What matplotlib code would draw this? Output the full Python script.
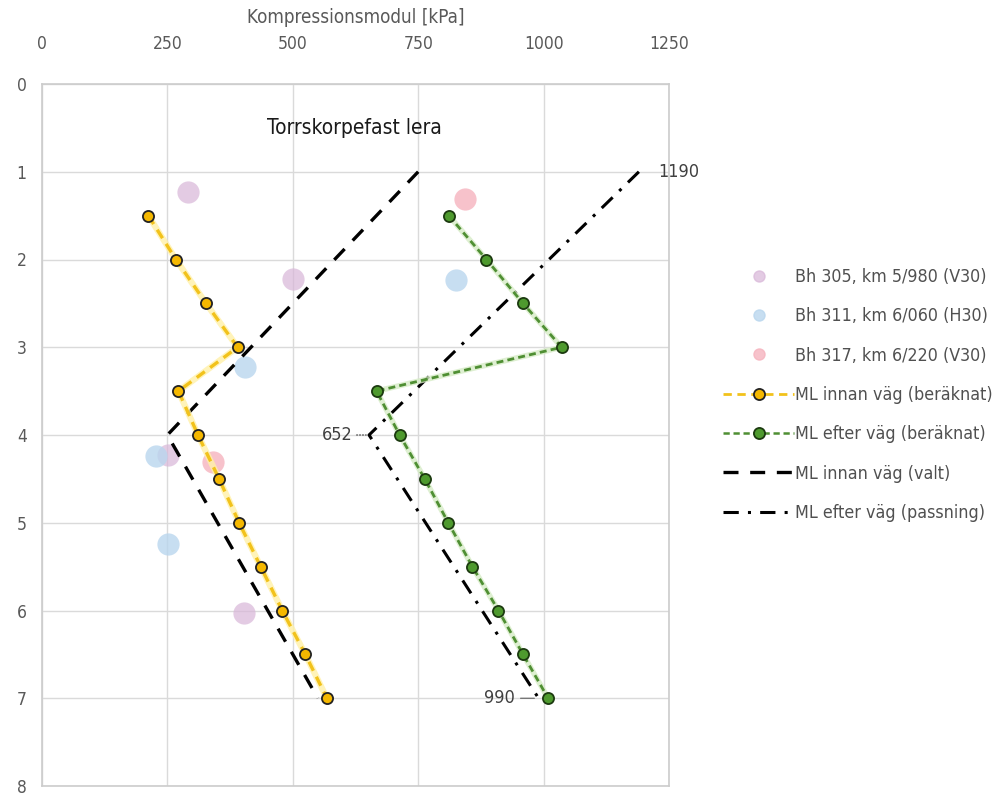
import matplotlib
matplotlib.use("Agg")
import matplotlib.pyplot as plt
from matplotlib.lines import Line2D

# depth [m] and compression modulus [kPa]
depth_calc = [1.5, 2.0, 2.5, 3.0, 3.5, 4.0, 4.5, 5.0, 5.5, 6.0, 6.5, 7.0]
ml_before_calc = [212, 267, 327, 390, 272, 311, 353, 393, 436, 479, 525, 568]
ml_after_calc = [811, 886, 959, 1036, 667, 713, 763, 810, 858, 910, 959, 1009]

depth_chosen = [1, 4, 7]
ml_before_chosen = [750, 250, 550]
ml_after_fit = [1190, 652, 990]

bh305_ml = [291, 500, 252, 403]
bh305_depth = [1.23, 2.22, 4.23, 6.03]
bh311_ml = [826, 404, 228, 252]
bh311_depth = [2.23, 3.22, 4.24, 5.24]
bh317_ml = [843, 341]
bh317_depth = [1.31, 4.31]

bh_labels = ["Bh 305, km 5/980 (V30)", "Bh 311, km 6/060 (H30)", "Bh 317, km 6/220 (V30)"]
line_labels = ["ML innan väg (beräknat)", "ML efter väg (beräknat)",
               "ML innan väg (valt)", "ML efter väg (passning)"]

plt.rcParams['font.family'] = ['DejaVu Sans']
plt.rcParams['font.stretch'] = 'condensed'

fig = plt.figure(figsize=(9.99, 7.94), dpi=100)
ax = fig.add_axes([42/999, 1 - 786/794, (669 - 42)/999, (786 - 84)/794])

c305, c311, c317 = '#d8b6d8', '#b9d6ee', '#f6b3be'
ax.plot(bh305_ml, bh305_depth, 'o', ms=16, color=c305, alpha=0.7, mec='none', zorder=2)
ax.plot(bh311_ml, bh311_depth, 'o', ms=16, color=c311, alpha=0.8, mec='none', zorder=2)
ax.plot(bh317_ml, bh317_depth, 'o', ms=16, color=c317, alpha=0.8, mec='none', zorder=2)

# chosen / fitted lines
ax.plot(ml_before_chosen, depth_chosen, color='black', lw=2.4,
        dashes=(4.5, 3.5), zorder=3)
ax.plot(ml_after_fit, depth_chosen, color='black', lw=2.2,
        dashes=(5, 3, 1, 3), zorder=3)

# calculated series with a pale halo under the dashes
ax.plot(ml_before_calc, depth_calc, color='#fff1a8', lw=4.5, alpha=0.8, zorder=4)
ax.plot(ml_before_calc, depth_calc, color='#f2c21b', lw=2.4, dashes=(3, 2),
        marker='o', ms=8, mfc='#f5b800', mec='#222222', mew=1.3, zorder=5)
ax.plot(ml_after_calc, depth_calc, color='#d6ecc6', lw=4.0, alpha=0.8, zorder=4)
ax.plot(ml_after_calc, depth_calc, color='#4f8f33', lw=2.0, dashes=(2.5, 1.5),
        marker='o', ms=8, mfc='#4e9a2e', mec='#1c3a10', mew=1.3, zorder=5)

# value labels on the fitted line
lab_kw = dict(fontsize=13, color='#404040', va='center')
ax.annotate(str(ml_after_fit[0]), xy=(ml_after_fit[0], depth_chosen[0]),
            xytext=(14, 0), textcoords='offset points', ha='left', **lab_kw)
ax.annotate(str(ml_after_fit[1]), xy=(ml_after_fit[1], depth_chosen[1]),
            xytext=(-12, 0), textcoords='offset points', ha='right',
            arrowprops=dict(arrowstyle='-', color='#404040', lw=0.8, ls=':',
                            shrinkA=1, shrinkB=2), **lab_kw)
ax.annotate(str(ml_after_fit[2]), xy=(ml_after_fit[2], depth_chosen[2]),
            xytext=(-17, 0), textcoords='offset points', ha='right',
            arrowprops=dict(arrowstyle='-', color='#606060', lw=0.8,
                            shrinkA=2, shrinkB=3), **lab_kw)

ax.text(448, 0.5, "Torrskorpefast lera", ha='left', va='center',
        fontsize=15, color='#1a1a1a')

ax.set_xlim(0, 1250)
ax.set_ylim(8, 0)
ax.set_xticks(range(0, 1251, 250))
ax.set_yticks(range(0, 9))
ax.xaxis.tick_top()
ax.xaxis.set_label_position('top')
ax.set_xlabel("Kompressionsmodul [kPa]", fontsize=13.5, color='#595959', labelpad=9)
ax.tick_params(length=0, labelsize=12.5, labelcolor='#595959')
ax.tick_params(axis='x', pad=22)
ax.tick_params(axis='y', pad=11)
ax.grid(True, color='#dadada', lw=1.0, zorder=0)
ax.set_axisbelow(True)
for s in ax.spines.values():
    s.set_color('#cccccc')
    s.set_linewidth(1.2)

handles = [
    Line2D([], [], ls='none', marker='o', ms=8, color=c305, alpha=0.7),
    Line2D([], [], ls='none', marker='o', ms=8, color=c311, alpha=0.8),
    Line2D([], [], ls='none', marker='o', ms=8, color=c317, alpha=0.8),
    Line2D([], [], color='#f2c21b', lw=2.0, dashes=(3, 2), marker='o', ms=8,
           mfc='#f5b800', mec='#222222', mew=1.3),
    Line2D([], [], color='#4f8f33', lw=1.8, dashes=(2.5, 1.5), marker='o', ms=8,
           mfc='#4e9a2e', mec='#1c3a10', mew=1.3),
    Line2D([], [], color='black', lw=2.4, dashes=(4.5, 3.5)),
    Line2D([], [], color='black', lw=2.2, dashes=(5, 3, 1, 3)),
]
fig.legend(handles, bh_labels + line_labels, loc='center left',
           bbox_to_anchor=(716/999, 1 - 395/794), frameon=False,
           fontsize=12.8, labelcolor='#505050', handlelength=4.0,
           handletextpad=0.05, labelspacing=1.2, borderaxespad=0.0)

fig.savefig("out.png", dpi=100)
